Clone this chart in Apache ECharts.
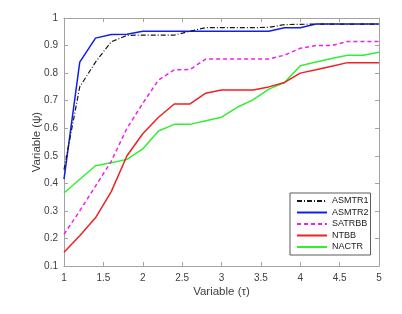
<!DOCTYPE html>
<html>
<head>
<meta charset="utf-8">
<script src="https://cdn.jsdelivr.net/npm/echarts@6/dist/echarts.min.js"></script>
<style>html,body{margin:0;padding:0;background:#fff;}#c{width:402px;height:314px;}</style>
</head>
<body>
<div id="c"></div>
<script>
var xValues = [1, 1.2, 1.4, 1.6, 1.8, 2, 2.2, 2.4, 2.6, 2.8, 3, 3.2, 3.4, 3.6, 3.8, 4, 4.2, 4.4, 4.6, 4.8, 5];
var asmtr1 = [0.45, 0.75, 0.84, 0.914, 0.937, 0.938, 0.938, 0.938, 0.952, 0.965, 0.965, 0.965, 0.965, 0.966, 0.976, 0.977, 0.978, 0.978, 0.978, 0.978, 0.978];
var asmtr2 = [0.415, 0.84, 0.927, 0.94, 0.941, 0.952, 0.952, 0.952, 0.952, 0.952, 0.952, 0.952, 0.952, 0.952, 0.965, 0.965, 0.978, 0.978, 0.978, 0.978, 0.978];
var satrbb = [0.215, 0.3, 0.39, 0.48, 0.6, 0.69, 0.775, 0.812, 0.813, 0.851, 0.851, 0.851, 0.851, 0.851, 0.865, 0.89, 0.9, 0.9, 0.915, 0.915, 0.915];
var ntbb = [0.15, 0.21, 0.275, 0.37, 0.5, 0.58, 0.64, 0.688, 0.688, 0.727, 0.739, 0.739, 0.739, 0.75, 0.766, 0.8, 0.812, 0.825, 0.838, 0.838, 0.838];
var nactr = [0.365, 0.415, 0.464, 0.475, 0.487, 0.525, 0.59, 0.614, 0.614, 0.627, 0.64, 0.676, 0.703, 0.742, 0.766, 0.827, 0.84, 0.853, 0.865, 0.865, 0.876];
var seriesNames = ['ASMTR1', 'ASMTR2', 'SATRBB', 'NTBB', 'NACTR'];
var xTickLabels = ['1', '1.5', '2', '2.5', '3', '3.5', '4', '4.5', '5'];
var yTickLabels = ['0.1', '0.2', '0.3', '0.4', '0.5', '0.6', '0.7', '0.8', '0.9', '1'];

function pairs(arr) { return xValues.map(function (x, i) { return [x, arr[i]]; }); }

var axisCol = '#a3a3a3';
var labelCol = '#404040';
var font = 'Liberation Sans, Arial, sans-serif';

function xAxisCfg(pos, show) {
  return {
    type: 'value', position: pos, min: 1, max: 5, interval: 0.5,
    axisLine: { show: true, lineStyle: { color: axisCol, width: 1 } },
    axisTick: { show: true, inside: true, length: 4, lineStyle: { color: axisCol } },
    splitLine: { show: false },
    axisLabel: show ? {
      show: true, color: labelCol, fontSize: 10, fontFamily: font, margin: 7,
      formatter: function (v) { var i = Math.round((v - 1) / 0.5); return xTickLabels[i]; }
    } : { show: false },
    name: show ? 'Variable (τ)' : '',
    nameLocation: 'middle', nameGap: 20, nameMoveOverlap: false,
    nameTextStyle: { color: labelCol, fontSize: 11.5, fontFamily: font }
  };
}
function yAxisCfg(pos, show) {
  return {
    type: 'value', position: pos, min: 0.1, max: 1, interval: 0.1,
    axisLine: { show: true, lineStyle: { color: axisCol, width: 1 } },
    axisTick: { show: true, inside: true, length: 4, lineStyle: { color: axisCol } },
    splitLine: { show: false },
    axisLabel: show ? {
      show: true, color: labelCol, fontSize: 10, fontFamily: font, margin: 6,
      formatter: function (v) { var i = Math.round((v - 0.1) / 0.1); return yTickLabels[i]; }
    } : { show: false },
    name: show ? 'Variable (ψ)' : '',
    nameLocation: 'middle', nameGap: 21, nameRotate: 90, nameMoveOverlap: false,
    nameTextStyle: { color: labelCol, fontSize: 11.5, fontFamily: font }
  };
}

var styles = [
  { color: '#1a1a1a', type: [5, 2, 1, 2], width: 1.2 },
  { color: '#1020e8', type: 'solid', width: 1.5 },
  { color: '#f020f0', type: [4, 3], width: 1.5 },
  { color: '#ee2222', type: 'solid', width: 1.5 },
  { color: '#33ee33', type: 'solid', width: 1.5 }
];
var dataSets = [asmtr1, asmtr2, satrbb, ntbb, nactr];

var chart = echarts.init(document.getElementById('c'), null, { renderer: 'canvas' });
chart.setOption({
  animation: false,
  backgroundColor: '#ffffff',
  grid: { left: 64, right: 23, top: 18, bottom: 48, containLabel: false },
  xAxis: [xAxisCfg('bottom', true), xAxisCfg('top', false)],
  yAxis: [yAxisCfg('left', true), yAxisCfg('right', false)],
  legend: {
    orient: 'vertical', left: 290, top: 193,
    itemWidth: 30, itemHeight: 10, itemGap: 1.5,
    padding: [3, 2, 3, 6],
    borderColor: '#333333', borderWidth: 0.8, backgroundColor: '#ffffff',
    itemStyle: { opacity: 0 },
    textStyle: { color: '#1a1a1a', fontSize: 9, fontFamily: font, lineHeight: 10 },
    data: seriesNames
  },
  series: seriesNames.map(function (n, i) {
    return {
      name: n, type: 'line', xAxisIndex: 0, yAxisIndex: 0,
      data: pairs(dataSets[i]),
      symbol: 'none', showSymbol: false,
      lineStyle: styles[i], itemStyle: { color: styles[i].color },
      z: 10 - i
    };
  })
});
</script>
</body>
</html>
